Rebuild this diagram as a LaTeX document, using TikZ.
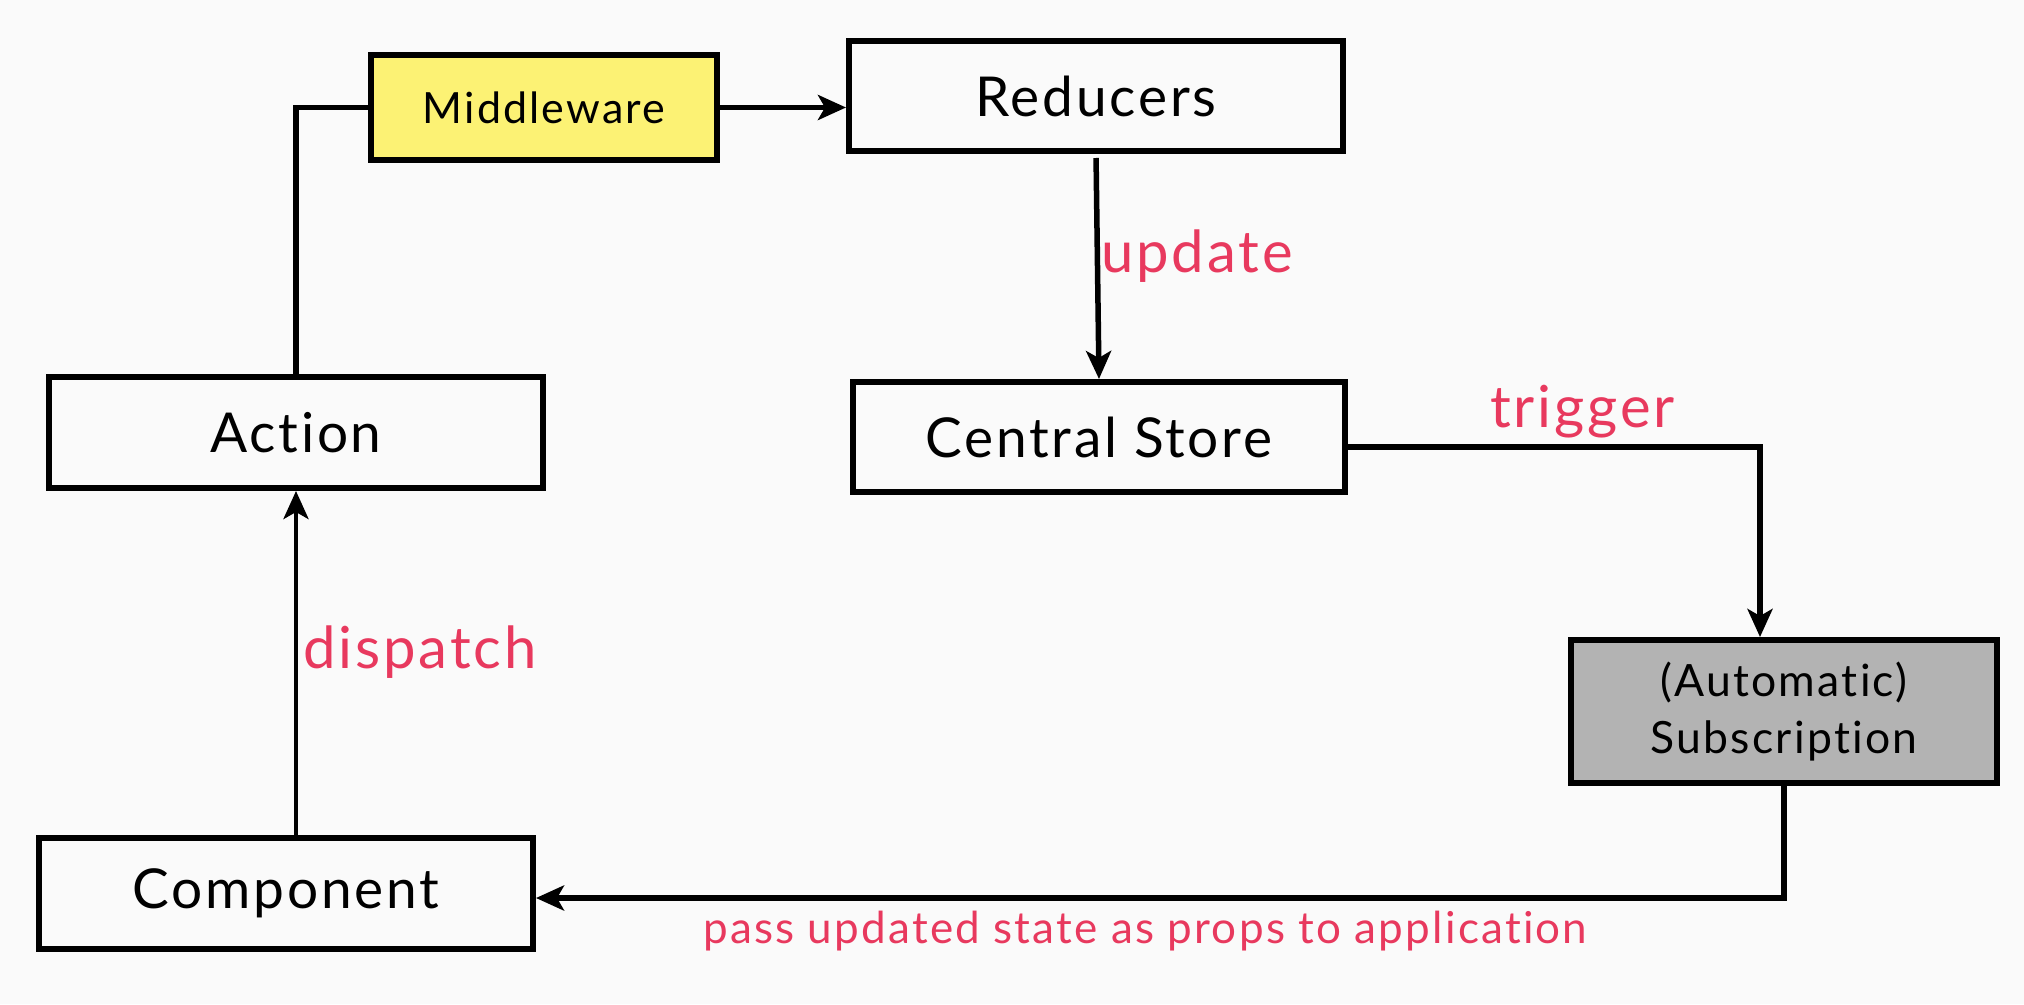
\documentclass[tikz,border=0pt]{standalone}
\usepackage{fontspec}
\setmainfont{Lato}[LetterSpace=5, Ligatures={NoCommon,NoRare}]
\usetikzlibrary{arrows.meta}
\definecolor{bgc}{HTML}{FAFAFA}
\definecolor{mwyellow}{HTML}{FCF274}
\definecolor{subgray}{HTML}{B3B3B3}
\definecolor{lblred}{HTML}{E8395E}
\tikzset{
  box/.style={draw=black, line width=6pt, fill=bgc, inner sep=0pt, align=center, font=\fontsize{55}{62}\selectfont},
  conn/.style={draw=black, line width=5.5pt},
  tip/.style={-{Stealth[length=28pt,width=25pt,inset=7pt]}},
  lbl/.style={text=lblred, inner sep=0pt, font=\fontsize{58}{66}\selectfont},
}
\begin{document}
\begin{tikzpicture}[x=1pt,y=-1pt]
\fill[bgc] (0,0) rectangle (2024,1004);
\useasboundingbox (0,0) rectangle (2024,1004);
% nodes
\node[box, fill=mwyellow, minimum width=346pt, minimum height=105pt, font=\fontsize{43}{50}\selectfont] (mw) at (544,107.5) {Middleware};
\node[box, minimum width=494pt, minimum height=110pt] (red) at (1096,96) {Reducers};
\node[box, minimum width=494pt, minimum height=111pt] (act) at (296,432.5) {Action};
\node[box, minimum width=492pt, minimum height=110pt] (store) at (1099,437) {Central Store};
\node[box, fill=subgray, minimum width=426pt, minimum height=143pt, font=\fontsize{44.5}{57}\selectfont] (sub) at (1784,711.5) {(Automatic)\\Subscription};
\node[box, minimum width=494pt, minimum height=111pt] (comp) at (286,893.5) {Component};
% connectors
\draw[conn] (act.north) |- (mw.west);
\draw[conn, tip] (mw.east) -- (mw.east -| red.west);
\draw[conn, tip, shorten <=4pt] (red.south) -- (store.north);
\coordinate (tc) at (1760,447);
\draw[conn, tip] (store.east |- tc) -- (tc) -- (tc |- sub.north);
\coordinate (bc) at (1784,898);
\draw[conn, tip] (sub.south) -- (bc) -- (bc -| comp.east);
\draw[conn, line width=4.5pt, tip] (comp.north -| act.south) -- (act.south);
% labels
\node[lbl, anchor=base west] (lupd) at (1101,272) {update};
\node[lbl, anchor=base west] (ltrig) at (1490,427) {trigger};
\node[lbl, anchor=base west] (ldisp) at (303,668) {dispatch};
\node[lbl, anchor=base west, font=\fontsize{44}{50}\selectfont] (lpass) at (703,943) {pass updated state as props to application};
\end{tikzpicture}
\end{document}
